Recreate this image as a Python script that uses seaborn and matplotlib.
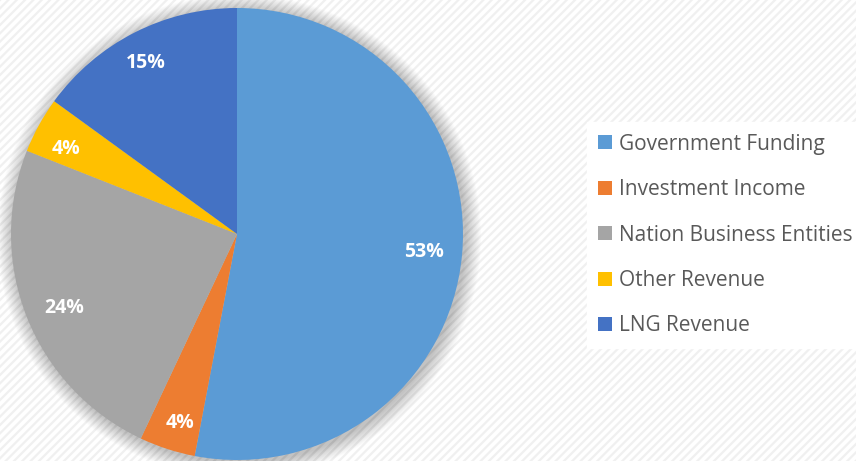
import matplotlib
matplotlib.use("Agg")
import matplotlib.pyplot as plt
import seaborn as sns
import numpy as np
from matplotlib.patches import Rectangle, Circle, Patch

# Data
categories = ["Government Funding", "Investment Income", "Nation Business Entities",
              "Other Revenue", "LNG Revenue"]
shares = [53, 4, 24, 4, 15]
colors = ["#5B9BD5", "#ED7D31", "#A5A5A5", "#FFC000", "#4472C4"]

sns.set_theme(style="white")
plt.rcParams["font.family"] = ["Open Sans", "DejaVu Sans"]
plt.rcParams["hatch.linewidth"] = 1.6

fig = plt.figure(figsize=(8.56, 4.61), dpi=100)

# faint diagonal stripe background
bg = Rectangle((0, 0), 1, 1, transform=fig.transFigure, facecolor="white",
               edgecolor="#f0f0f0", hatch="////", linewidth=0, zorder=-10)
fig.patches.append(bg)

W, H = 856, 461
cx, cy, r = 237, 234, 226
ax = fig.add_axes([(cx - r) / W, (H - cy - r) / H, 2 * r / W, 2 * r / H])
ax.patch.set_alpha(0)

# soft shadow around the pie
n = 20
for k in range(n):
    rad = 1.0 + 0.0035 * (n - k)
    ax.add_patch(Circle((0.01, -0.01), rad, facecolor="#000000", alpha=0.011,
                        linewidth=0, clip_on=False, zorder=0))

wedges, _ = ax.pie(shares, colors=colors, startangle=90, counterclock=False,
                   radius=1.0, wedgeprops=dict(linewidth=0, zorder=2))

# percentage labels (radius and small angle nudge per slice)
label_r = [0.83, 0.875, 0.83, 0.845, 0.86]
label_dang = [0, 1.3, 1.6, 2.4, 1.1]
for w, v, lr, da in zip(wedges, shares, label_r, label_dang):
    mid = np.deg2rad((w.theta1 + w.theta2) / 2 + da)
    ax.text(lr * np.cos(mid), lr * np.sin(mid), f"{v}%", ha="center", va="center",
            color="white", fontsize=14, fontweight="bold", zorder=5)

ax.set_xlim(-1, 1)
ax.set_ylim(-1, 1)
ax.set_aspect("equal")
ax.axis("off")

handles = [Patch(facecolor=c, edgecolor="none") for c in colors]
leg = fig.legend(handles, categories, loc="center left",
                 bbox_to_anchor=(587 / W, 1 - 235 / H), frameon=True,
                 fancybox=False, framealpha=1, facecolor="white", edgecolor="white",
                 fontsize=15, labelspacing=1.17, handlelength=0.65, handleheight=0.65,
                 handletextpad=0.35, borderpad=0.55, borderaxespad=0)
for t in leg.get_texts():
    t.set_color("#595959")

fig.savefig("out.png", dpi=100)
